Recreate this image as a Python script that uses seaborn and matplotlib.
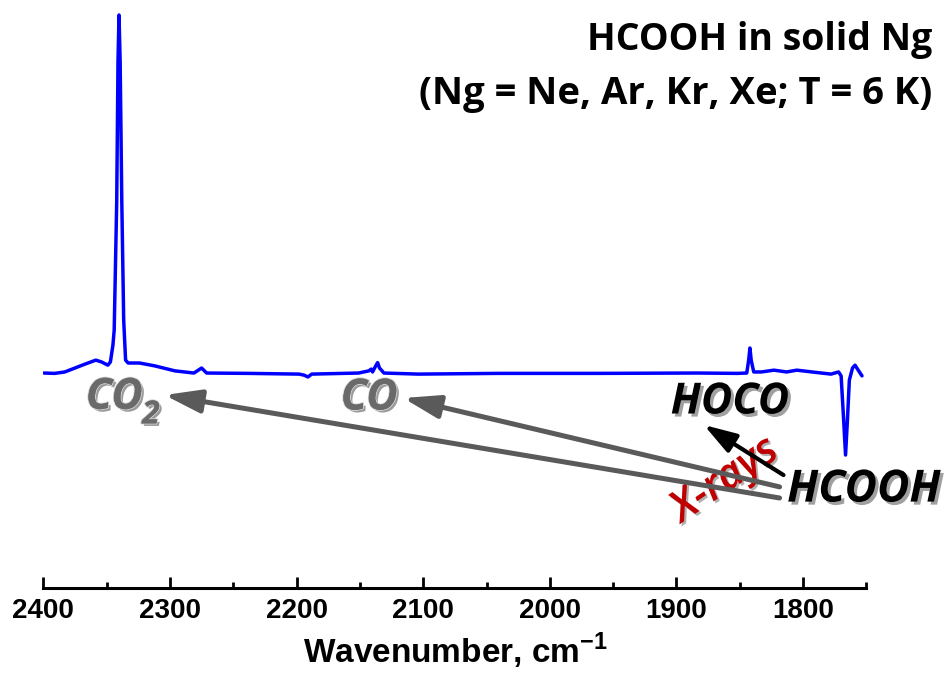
import numpy as np
import pandas as pd
import matplotlib
matplotlib.use("Agg")
import matplotlib.pyplot as plt
import matplotlib.patheffects as pe
from matplotlib.ticker import MultipleLocator
import seaborn as sns

# ---- data ----
wavenumber = [2399.5, 2391, 2383, 2375, 2367, 2358.5, 2354, 2349, 2347, 2345, 2344,
              2342, 2341, 2340.2, 2339.3, 2338, 2336.5, 2335, 2333, 2324, 2312,
              2296, 2281, 2275, 2271, 2238, 2198, 2194, 2191, 2188, 2151, 2143,
              2141, 2140, 2137.5, 2136, 2134.5, 2131, 2104, 2041, 1962, 1884,
              1852, 1844.5, 1843, 1842, 1841, 1839, 1833, 1823, 1813, 1805, 1793,
              1778, 1772, 1770, 1768, 1766.5, 1765, 1763.5, 1761, 1759, 1756.5, 1753.5]
absorbance = [0.0, -0.001, 0.003, 0.014, 0.025, 0.036, 0.031, 0.022, 0.031, 0.078, 0.120,
              0.480, 0.870, 1.000, 0.870, 0.480, 0.148, 0.036, 0.028, 0.028, 0.020,
              0.006, 0.0, 0.014, 0.0, -0.001, -0.003, -0.006, -0.011, -0.003, 0.0, 0.006,
              0.011, 0.003, 0.020, 0.029, 0.014, 0.0, -0.003, -0.001, -0.001, 0.0,
              -0.001, 0.0, 0.036, 0.070, 0.036, 0.003, 0.003, 0.008, 0.003, 0.008, 0.003,
              -0.003, 0.003, -0.008, -0.131, -0.229, -0.131, -0.020, 0.014, 0.022, 0.008, -0.008]

x_ticks = [2400, 2300, 2200, 2100, 2000, 1900, 1800]
x_label = "Wavenumber, cm$^{\\mathbf{-1}}$"
title_lines = ["HCOOH in solid Ng", "(Ng = Ne, Ar, Kr, Xe; T = 6 K)"]

df = pd.DataFrame({"wn": wavenumber, "A": absorbance})

sns.set_theme(style="white")
plt.rcParams["font.family"] = ["Liberation Sans", "DejaVu Sans"]
plt.rcParams["text.color"] = "black"
plt.rcParams["axes.labelcolor"] = "black"
plt.rcParams["xtick.color"] = "black"
plt.rcParams["mathtext.fontset"] = "custom"
plt.rcParams["mathtext.rm"] = "Liberation Sans"
plt.rcParams["mathtext.bf"] = "Liberation Sans:bold"

fig = plt.figure(figsize=(9.49, 6.83), dpi=100)
ax = fig.add_axes([0.0456, 0.139, 0.8674, 0.861])

sns.lineplot(data=df, x="wn", y="A", sort=False, estimator=None,
             color="#0000ff", linewidth=2.5, ax=ax)

ax.set_xlim(2400, 1750)
ax.set_ylim(-0.6006, 1.0419)

for s in ["left", "right", "top"]:
    ax.spines[s].set_visible(False)
ax.spines["bottom"].set_linewidth(2.2)
ax.spines["bottom"].set_color("black")
ax.yaxis.set_visible(False)

ax.set_xticks(x_ticks)
ax.xaxis.set_minor_locator(MultipleLocator(50))
ax.tick_params(axis="x", which="major", direction="in", length=8, width=2.0,
               color="black", bottom=True, pad=7, labelcolor="black")
ax.tick_params(axis="x", which="minor", direction="in", length=4.5, width=2.0,
               color="black", bottom=True)
for lab in ax.get_xticklabels():
    lab.set_fontfamily(["Liberation Sans", "DejaVu Sans"])
    lab.set_fontweight("bold")
    lab.set_fontsize(20)

ax.set_xlabel(x_label, fontsize=24, fontweight="bold", labelpad=5, color="black",
              family=["Liberation Sans", "DejaVu Sans"])
ax.set_ylabel("")

# title
fig.text(0.982, 0.941, title_lines[0], ha="right", va="center", fontsize=27,
         fontweight="bold", color="black", family=["Open Sans", "DejaVu Sans"])
fig.text(0.982, 0.863, title_lines[1], ha="right", va="center", fontsize=27.5,
         fontweight="bold", color="black", family=["Open Sans", "DejaVu Sans"])

# annotations
gray_fx = [pe.SimplePatchShadow(offset=(1.8, -1.8), shadow_rgbFace="#9a9a9a", alpha=1.0),
           pe.withStroke(linewidth=1.4, foreground="#d4d4d4"), pe.Normal()]
black_fx = [pe.SimplePatchShadow(offset=(2.2, -2.2), shadow_rgbFace="#a0a0a0", alpha=1.0),
            pe.Normal()]
red_fx = [pe.SimplePatchShadow(offset=(1.5, -1.5), shadow_rgbFace="#b0b0b0", alpha=1.0),
          pe.Normal()]
lab_font = ["Open Sans", "DejaVu Sans"]

ax.text(2344, -0.068, "CO", ha="center", va="center", fontsize=31, fontweight="bold",
        style="italic", color="#6a6a6a", family=lab_font, path_effects=gray_fx)
ax.text(2315, -0.117, "2", ha="center", va="center", fontsize=23, fontweight="bold",
        style="italic", color="#6a6a6a", family=lab_font, path_effects=gray_fx)
ax.text(2142.7, -0.070, "CO", ha="center", va="center", fontsize=31, fontweight="bold",
        style="italic", color="#6a6a6a", family=lab_font, path_effects=gray_fx)
ax.text(1857.9, -0.081, "HOCO", ha="center", va="center", fontsize=31, fontweight="bold",
        style="italic", color="black", family=lab_font, path_effects=black_fx)
ax.text(1752, -0.327, "HCOOH", ha="center", va="center", fontsize=32, fontweight="bold",
        style="italic", color="black", family=lab_font, path_effects=black_fx)
ax.text(1862, -0.299, "X-rays", ha="center", va="center", fontsize=31, fontweight="semibold",
        style="italic", color="#c00000", rotation=34, family=lab_font, path_effects=red_fx)

arrow_gray = dict(arrowstyle="-|>,head_length=1.1,head_width=0.35", color="#5a5a5a",
                  lw=3.6, mutation_scale=20, shrinkA=0, shrinkB=0)
ax.annotate("", xy=(2304.3, -0.0615), xytext=(1818.6, -0.349), arrowprops=arrow_gray)
ax.annotate("", xy=(2115.7, -0.0698), xytext=(1818.6, -0.318), arrowprops=arrow_gray)
arrow_black = dict(arrowstyle="-|>,head_length=1.1,head_width=0.35", color="black",
                   lw=3.0, mutation_scale=18, shrinkA=0, shrinkB=0)
ax.annotate("", xy=(1878.4, -0.145), xytext=(1815.5, -0.285), arrowprops=arrow_black)

fig.savefig("out.png", dpi=100)
